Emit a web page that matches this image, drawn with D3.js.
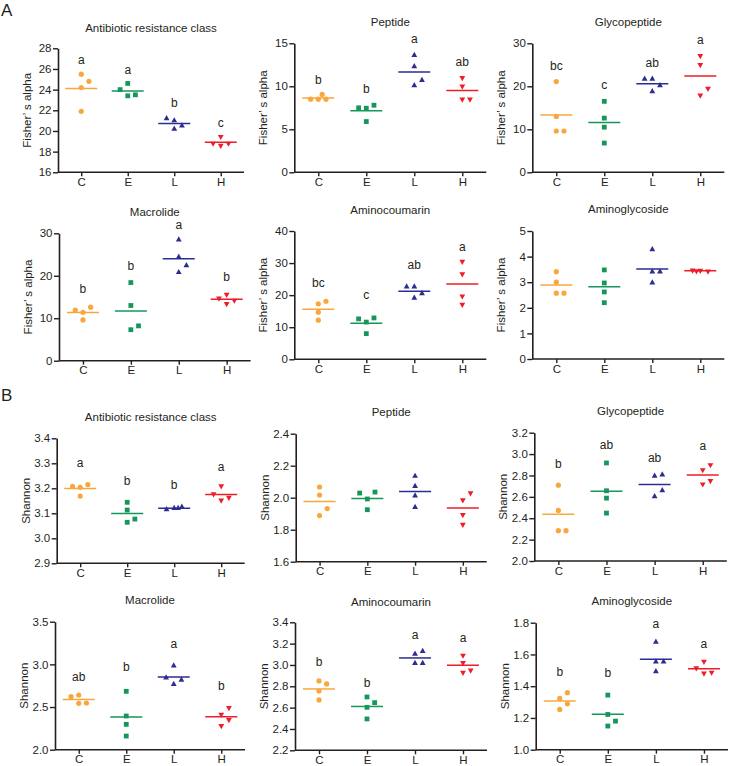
<!DOCTYPE html>
<html><head><meta charset="utf-8">
<script src="https://cdn.jsdelivr.net/npm/d3@7"></script>
<style>
body{margin:0;background:#fff}
svg{display:block}
text{font-family:"Liberation Sans",Arial,Helvetica,sans-serif;fill:#231f20}
</style>
</head><body>
<svg id="chart" width="729" height="766"></svg>
<script>
// ---------- DATA ----------
const groups = ["C","E","L","H"];
const titles = ["Antibiotic resistance class","Peptide","Glycopeptide","Macrolide","Aminocoumarin","Aminoglycoside",
                "Antibiotic resistance class","Peptide","Glycopeptide","Macrolide","Aminocoumarin","Aminoglycoside"];
const yLabels = ["Fisher\u2019 s alpha","Shannon"];
const sectionLabels = ["A","B"];

// Fisher's alpha (replicates per group C, E, L, H)
const fisher_ARC  = [[25.5,24.2,21.9,24.8],[24.6,23.4,23.5,24.0],[21.0,20.2,20.5,21.2],[19.45,18.6,18.8,18.8]];
const fisher_Pep  = [[8.5,8.5,8.5,9.05],[7.45,5.9,7.8,7.5],[13.6,12.3,10.1,10.7],[11.0,10.0,8.5,8.5]];
const fisher_Gly  = [[21.1,13.0,9.6,9.6],[16.5,12.6,10.5,6.8],[21.7,18.8,20.2,21.7],[27.1,25.0,17.9,19.5]];
const fisher_Mac  = [[11.4,9.6,12.6,11.9],[18.4,13.0,7.3,8.2],[28.5,24.4,20.8,22.4],[15.6,13.4,14.2,14.7]];
const fisher_Amc  = [[17.3,14.7,12.2,18.1],[11.6,8.0,12.9,12.6],[22.6,19.1,20.5,22.6],[30.5,26.6,19.7,17.1]];
const fisher_Agl  = [[3.41,3.0,2.57,2.57],[3.48,2.97,2.62,2.2],[4.28,3.41,2.98,3.41],[3.46,3.43,3.47,3.44]];
// Shannon
const shannon_ARC = [[3.204,3.169,3.215,3.208],[3.113,3.064,3.077,3.144],[3.12,3.125,3.115,3.12],[3.209,3.152,3.163,3.177]];
const shannon_Pep = [[2.067,2.017,1.888,1.932],[1.992,1.925,2.035,2.029],[2.135,2.071,2.012,1.94],[1.985,1.894,1.833,2.029]];
const shannon_Gly = [[2.709,2.473,2.284,2.284],[2.917,2.588,2.448,2.657],[2.796,2.604,2.66,2.806],[2.852,2.719,2.75,2.899]];
const shannon_Mac = [[2.641,2.543,2.547,2.621],[2.684,2.395,2.297,2.16],[2.984,2.766,2.816,2.844],[2.414,2.281,2.352,2.492]];
const shannon_Amc = [[2.85,2.756,2.672,2.822],[2.7,2.603,2.494,2.647],[3.103,3.016,3.016,3.128],[3.09,3.02,2.93,2.95]];
const shannon_Agl = [[1.323,1.254,1.289,1.359],[1.344,1.222,1.149,1.18],[1.678,1.554,1.493,1.554],[1.556,1.481,1.487,1.514]];

// y tick values
const tk_fisher_ARC = [16,18,20,22,24,26,28];
const tk_fisher_Pep = [0,5,10,15];
const tk_fisher_Gly = [0,10,20,30];
const tk_fisher_Mac = [0,10,20,30];
const tk_fisher_Amc = [0,10,20,30,40];
const tk_fisher_Agl = [0,1,2,3,4,5];
const tk_sh_ARC = [2.9,3.0,3.1,3.2,3.3,3.4];
const tk_sh_Pep = [1.6,1.8,2.0,2.2,2.4];
const tk_sh_Gly = [2.0,2.2,2.4,2.6,2.8,3.0,3.2];
const tk_sh_Mac = [2.0,2.5,3.0,3.5];
const tk_sh_Amc = [2.2,2.4,2.6,2.8,3.0,3.2,3.4];
const tk_sh_Agl = [1.0,1.2,1.4,1.6,1.8];

// significance letters and their level (data units)
const let_fisher_ARC = ["a","a","b","c"],   lv_fisher_ARC = [26.87,25.9,22.65,20.8];
const let_fisher_Pep = ["b","b","a","ab"],  lv_fisher_Pep = [10.74,9.65,15.5,12.83];
const let_fisher_Gly = ["bc","c","ab","a"], lv_fisher_Gly = [24.7,20.3,25.3,30.8];
const let_fisher_Mac = ["b","b","a","b"],   lv_fisher_Mac = [16.9,22.2,31.8,19.7];
const let_fisher_Amc = ["bc","c","ab","a"], lv_fisher_Amc = [23.6,20.1,29.2,35.0];
const let_sh_ARC = ["a","b","b","a"],       lv_sh_ARC = [3.3,3.229,3.212,3.283];
const let_sh_Gly = ["b","ab","ab","a"],     lv_sh_Gly = [2.902,3.082,2.958,3.073];
const let_sh_Mac = ["ab","b","a","b"],      lv_sh_Mac = [2.855,2.961,3.242,2.75];
const let_sh_Amc = ["b","b","a","a"],       lv_sh_Amc = [3.025,2.825,3.281,3.25];
const let_sh_Agl = ["b","b","a","a"],       lv_sh_Agl = [1.487,1.479,1.792,1.663];

// ---------- PANELS (data binding) ----------
const panels = [
  {vals:fisher_ARC,  ticks:tk_fisher_ARC, lab:let_fisher_ARC, lv:lv_fisher_ARC, yl:0},
  {vals:fisher_Pep,  ticks:tk_fisher_Pep, lab:let_fisher_Pep, lv:lv_fisher_Pep, yl:0},
  {vals:fisher_Gly,  ticks:tk_fisher_Gly, lab:let_fisher_Gly, lv:lv_fisher_Gly, yl:0},
  {vals:fisher_Mac,  ticks:tk_fisher_Mac, lab:let_fisher_Mac, lv:lv_fisher_Mac, yl:0},
  {vals:fisher_Amc,  ticks:tk_fisher_Amc, lab:let_fisher_Amc, lv:lv_fisher_Amc, yl:0},
  {vals:fisher_Agl,  ticks:tk_fisher_Agl, lab:null, lv:null, yl:0},
  {vals:shannon_ARC, ticks:tk_sh_ARC, lab:let_sh_ARC, lv:lv_sh_ARC, yl:1},
  {vals:shannon_Pep, ticks:tk_sh_Pep, lab:null, lv:null, yl:1},
  {vals:shannon_Gly, ticks:tk_sh_Gly, lab:let_sh_Gly, lv:lv_sh_Gly, yl:1},
  {vals:shannon_Mac, ticks:tk_sh_Mac, lab:let_sh_Mac, lv:lv_sh_Mac, yl:1},
  {vals:shannon_Amc, ticks:tk_sh_Amc, lab:let_sh_Amc, lv:lv_sh_Amc, yl:1},
  {vals:shannon_Agl, ticks:tk_sh_Agl, lab:let_sh_Agl, lv:lv_sh_Agl, yl:1}
];

// ---------- LAYOUT ----------
const layout = [
  {x0:58,    x1:244,   yT:48.3,  yB:172.3, tY:32,    fmt:"d"},
  {x0:294.3, x1:486.3, yT:43.3,  yB:172.3, tY:26,    fmt:"d"},
  {x0:532.3, x1:724.3, yT:43.3,  yB:172.3, tY:26,    fmt:"d"},
  {x0:59,    x1:250.6, yT:233.3, yB:360.7, tY:215.7, fmt:"d"},
  {x0:294.3, x1:486.3, yT:231,   yB:359.3, tY:213.7, fmt:"d"},
  {x0:532.3, x1:724.3, yT:231,   yB:359,   tY:213.3, fmt:"d"},
  {x0:56.7,  x1:244.7, yT:438.3, yB:563.3, tY:420.7, fmt:".1f"},
  {x0:295.7, x1:486.7, yT:433.7, yB:561.7, tY:415.7, fmt:".1f"},
  {x0:534.3, x1:726.8, yT:432.7, yB:561,   tY:415.3, fmt:".1f"},
  {x0:55,    x1:245,   yT:621.7, yB:749.7, tY:604,   fmt:".1f"},
  {x0:295,   x1:487,   yT:622.3, yB:750.3, tY:605.7, fmt:".1f"},
  {x0:535.7, x1:728,   yT:622.7, yB:749.7, tY:604.7, fmt:".1f"}
];
const colors = ["#F9A73C","#16965B","#2B2D8F","#EE1D27"];
const FONT = 11.5;

const svg = d3.select("#chart");

// section labels
svg.append("text").attr("x",1).attr("y",15.5).attr("font-size",17).text(sectionLabels[0]);
svg.append("text").attr("x",1).attr("y",401).attr("font-size",17).text(sectionLabels[1]);

// point placement (avoid overlap by shifting sideways)
function place(vals, y, slot){
  const placed = [];
  const T = 7.3, D = 6;
  const cands = [0,1,-1,0.5,-0.5];
  vals.forEach(v=>{
    const py = y(v);
    let chosen = null, best = null, bestD = -1;
    for(const c of cands){
      const px = c*slot;
      let minD = Infinity, ok = true;
      placed.forEach(p=>{
        const dx = Math.abs(p.dx-px), dy = Math.abs(p.py-py);
        minD = Math.min(minD, Math.hypot(dx,dy));
        if(Number.isInteger(c) && Number.isInteger(p.c)) { if(p.c===c && dy<T) ok=false; }
        else if(Math.hypot(dx,dy) < D) ok=false;
      });
      if(ok){ chosen = c; break; }
      if(minD > bestD + 1e-6){ bestD = minD; best = c; }
    }
    if(chosen===null) chosen = best;
    placed.push({v,py,dx:chosen*slot,c:chosen});
  });
  return placed;
}

function shapePath(gi){
  if(gi===0) return d3.symbol().type(d3.symbolCircle).size(Math.PI*2.6*2.6)();
  if(gi===1){ const s=2.4; return `M${-s},${-s}H${s}V${s}H${-s}Z`; }
  const w=2.9, h=5.2;
  if(gi===2) return `M0,${-2*h/3}L${w},${h/3}L${-w},${h/3}Z`;
  return `M0,${2*h/3}L${w},${-h/3}L${-w},${-h/3}Z`;
}

panels.forEach((p,i)=>{
  const L = layout[i];
  const g = svg.append("g");
  const y = d3.scaleLinear().domain([p.ticks[0], p.ticks[p.ticks.length-1]]).range([L.yB, L.yT]);
  const x = d3.scalePoint().domain(groups).range([L.x0, L.x1]).padding(0.5);
  const slot = 7.67;

  // axes
  const ya = g.append("g").attr("transform",`translate(${L.x0},0)`)
    .call(d3.axisLeft(y).tickValues(p.ticks).tickFormat(d3.format(L.fmt)).tickSize(5).tickSizeOuter(0).tickPadding(1.5));
  const xa = g.append("g").attr("transform",`translate(0,${L.yB})`)
    .call(d3.axisBottom(x).tickSize(4).tickSizeOuter(0).tickPadding(1.5));
  [ya,xa].forEach(a=>{
    a.select(".domain").attr("stroke","#231f20").attr("stroke-width",1.6);
    a.selectAll(".tick line").attr("stroke","#231f20").attr("stroke-width",1.4);
    a.selectAll(".tick text").attr("font-size",FONT).attr("fill","#231f20")
      .attr("font-family","'Liberation Sans',Arial,sans-serif");
  });
  xa.select(".domain").attr("d",`M${L.x0},0H${L.x1}`);

  // title
  g.append("text").attr("x",(L.x0+L.x1)/2).attr("y",L.tY).attr("text-anchor","middle")
    .attr("font-size",FONT).text(titles[i]);
  // y label
  g.append("text").attr("transform",`translate(${L.x0-27},${(L.yT+L.yB)/2}) rotate(-90)`)
    .attr("text-anchor","middle").attr("font-size",FONT).text(yLabels[p.yl]);

  // groups
  p.vals.forEach((vals,gi)=>{
    const cx = x(groups[gi]);
    const m = d3.mean(vals);
    g.append("line").attr("x1",cx-16).attr("x2",cx+16).attr("y1",y(m)).attr("y2",y(m))
      .attr("stroke",colors[gi]).attr("stroke-width",1.5);
    const pts = place(vals, y, slot);
    g.selectAll(null).data(pts).join("path")
      .attr("d",shapePath(gi))
      .attr("transform",d=>`translate(${cx+d.dx},${d.py})`)
      .attr("fill",colors[gi]);
    if(p.lab){
      g.append("text").attr("x",cx).attr("y",y(p.lv[gi])+3.8).attr("text-anchor","middle")
        .attr("font-size",12).text(p.lab[gi]);
    }
  });
});
</script>
</body></html>
